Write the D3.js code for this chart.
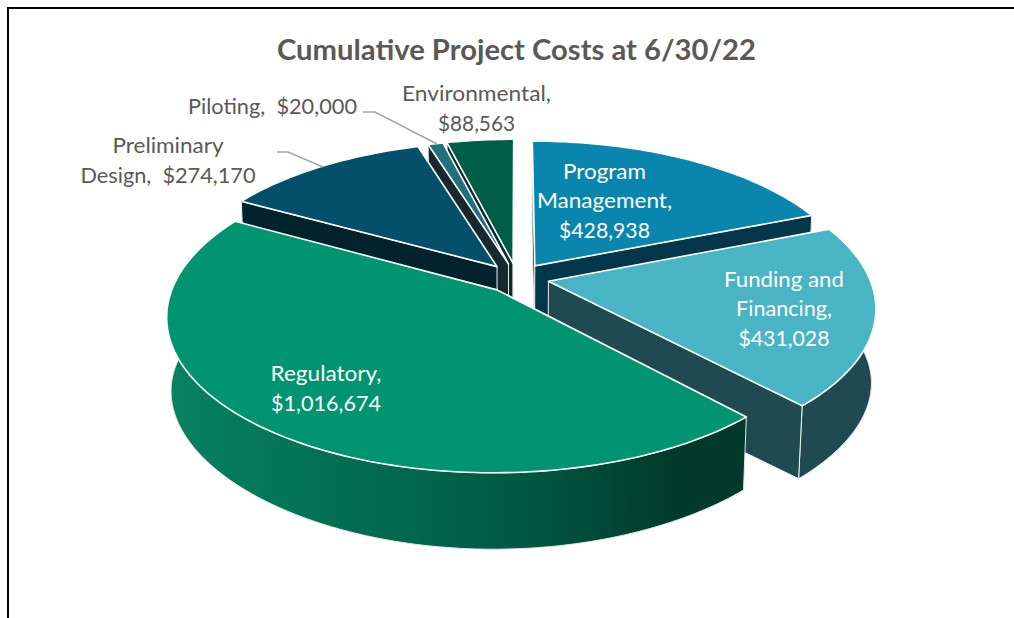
<!DOCTYPE html>
<html>
<head>
<meta charset="utf-8">
<script src="https://cdn.jsdelivr.net/npm/d3@7"></script>
<style>
  html, body { margin: 0; padding: 0; background: #fff; }
  text { font-family: Lato, "Open Sans", sans-serif; white-space: pre; }
</style>
</head>
<body>
<div id="chart"></div>
<script>
////////
// Data
let categories = ["Program Management", "Funding and Financing", "Regulatory",
  "Preliminary Design", "Piloting", "Environmental"];
let costs = [428938, 431028, 1016674, 274170, 20000, 88563];
let title = "Cumulative Project Costs at 6/30/22";

////////
// Label text, one row per line, same order as the categories
let labelLines = [
  ["Program", "Management,", "$428,938"],
  ["Funding and", "Financing,", "$431,028"],
  ["Regulatory,", "$1,016,674"],
  ["Preliminary", "Design,  $274,170"],
  ["Piloting,  $20,000"],
  ["Environmental,", "$88,563"]
];

////////
// Styles and label layout
let topColors = ["#0a86ae", "#49b4c3", "#009471", "#04506b", "#22707d", "#005d48"];
let sideColors = ["#05374a", "#1f4a52", "url(#regSide)", "#02222d", "#17292e", "#0d2b2c"];
let labelColors = ["#fff", "#fff", "#fff", "#595959", "#595959", "#595959"];
let labelX = [604.5, 784, 326, 168, 272.5, 476.5];
let labelY = [[179, 208, 238], [287, 316, 346], [381, 411], [153, 183], [114], [101, 131]];
let labelWidths = [[83, 135, 91], [120, 96, 91], [111, 110], [111, 175], [169], [149, 77]];

let svg_width = 1014;
let svg_height = 618;

let svg = d3.select("#chart")
  .append("svg")
  .attr("width", svg_width)
  .attr("height", svg_height)
  .style("display", "block");

////////
// Frame of the original chart area, only top and left show
svg.append("path")
  .attr("d", `M8,618V8H1014`)
  .attr("fill", "none")
  .attr("stroke", "#000")
  .attr("stroke-width", 2);

////////
// The side of the big slice gets darker going right
let grad = svg.append("defs").append("linearGradient")
  .attr("id", "regSide")
  .attr("gradientUnits", "userSpaceOnUse")
  .attr("x1", 170).attr("x2", 745).attr("y1", 0).attr("y2", 0);
grad.append("stop").attr("offset", 0).attr("stop-color", "#07825f");
grad.append("stop").attr("offset", 0.35).attr("stop-color", "#016b52");
grad.append("stop").attr("offset", 0.65).attr("stop-color", "#01553f");
grad.append("stop").attr("offset", 0.88).attr("stop-color", "#003a2a");
grad.append("stop").attr("offset", 1).attr("stop-color", "#02392b");

////////
// Scales from the pie plane to the screen. Unit radius, explode is in radii.
// The perspective divide happens in project(), the top and bottom faces
// get their own scales. The bottom y divide is stronger, fitted by eye.
let explode = 0.1;
let persp = 0.163;
let perspBottomY = 0.22;

let xTop = d3.scaleLinear().domain([0, 1]).range([517, 838]);
let yTop = d3.scaleLinear().domain([0, 1]).range([278, 426.8]);
let xBottom = d3.scaleLinear().domain([0, 1]).range([517, 834]);
let yBottom = d3.scaleLinear().domain([0, 1]).range([354, 492]);

function project(px, py, top) {
  let k = 1 / (1 - persp * py);
  if (top) return [xTop(px * k), yTop(py * k)];
  return [xBottom(px * k), yBottom(py / (1 - perspBottomY * py))];
}

let line = d3.line();

let pie = d3.pie().sort(null).startAngle(0).endAngle(2 * Math.PI);
let slices = pie(costs);

// point of a slice on its rim (r=1) or apex (r=0), angle clockwise from the back
function slicePoint(s, r, a, top) {
  let mid = (s.startAngle + s.endAngle) / 2;
  let px = explode * Math.sin(mid) + r * Math.sin(a);
  let py = -explode * Math.cos(mid) - r * Math.cos(a);
  return project(px, py, top);
}

function rim(s, top) {
  let steps = Math.max(2, Math.ceil((s.endAngle - s.startAngle) / 0.02));
  return d3.range(steps + 1).map(i =>
    slicePoint(s, 1, s.startAngle + (s.endAngle - s.startAngle) * i / steps, top));
}

////////
// Painter's order, back slices first, big front slice last
let drawOrder = [5, 4, 3, 0, 1, 2];

drawOrder.forEach(function(i) {
  let s = slices[i];
  let g = svg.append("g").attr("class", "slice");
  let rimTop = rim(s, true);
  let rimBottom = rim(s, false);

  // outer wall, the back part of it ends up under the top face
  g.append("path")
    .attr("d", line(rimTop.concat(rimBottom.slice().reverse())) + "Z")
    .attr("fill", sideColors[i])
    .attr("stroke", "#e4e4e4")
    .attr("stroke-width", 1);

  // the two cut walls, only when they face the viewer
  [s.startAngle, s.endAngle].forEach(function(a, j) {
    let quad = [
      slicePoint(s, 0, a, true), slicePoint(s, 1, a, true),
      slicePoint(s, 1, a, false), slicePoint(s, 0, a, false)
    ];
    let area = d3.polygonArea(quad);
    if ((j === 0 && area > 1) || (j === 1 && area < -1)) {
      g.append("path")
        .attr("d", line(quad) + "Z")
        .attr("fill", i === 2 ? "#02392b" : sideColors[i])
        .attr("stroke", "#f0f0f0")
        .attr("stroke-width", 1);
    }
  });

  // top face
  let apex = slicePoint(s, 0, s.startAngle, true);
  g.append("path")
    .attr("d", line([apex].concat(rimTop)) + "Z")
    .attr("fill", topColors[i])
    .attr("stroke", "#fff")
    .attr("stroke-width", 1.6)
    .attr("stroke-linejoin", "round");
});

////////
// Leader lines for the two small outside labels
let leaders = [
  [[277, 152], [288, 152], [323, 167]],
  [[363, 112], [375, 112], [437, 144]]
];
svg.selectAll(".leader")
  .data(leaders)
  .enter()
  .append("path")
  .attr("class", "leader")
  .attr("d", d => line(d))
  .attr("fill", "none")
  .attr("stroke", "#a6a6a6")
  .attr("stroke-width", 1.5);

////////
// Title and labels. The original face is wider than Lato, so each line
// is stretched to the width measured on the picture.
svg.append("text")
  .attr("x", 516.5)
  .attr("y", 60)
  .attr("text-anchor", "middle")
  .attr("font-size", 28)
  .attr("font-weight", 700)
  .attr("fill", "#595959")
  .attr("textLength", 479)
  .attr("lengthAdjust", "spacingAndGlyphs")
  .text(title);

categories.forEach(function(c, i) {
  labelLines[i].forEach(function(l, j) {
    svg.append("text")
      .attr("x", labelX[i])
      .attr("y", labelY[i][j])
      .attr("text-anchor", "middle")
      .attr("font-size", 21)
      .attr("fill", labelColors[i])
      .attr("textLength", labelWidths[i][j])
      .attr("lengthAdjust", "spacingAndGlyphs")
      .text(l);
  });
});
</script>
</body>
</html>
